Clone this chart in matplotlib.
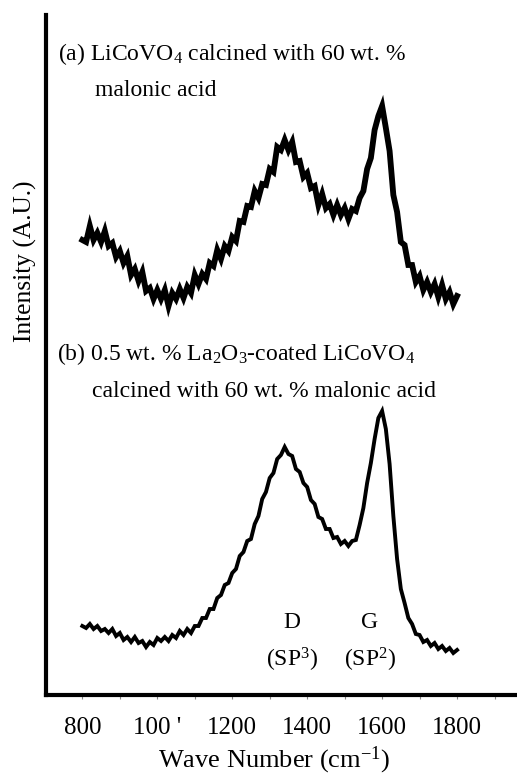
import matplotlib
matplotlib.use("Agg")
import matplotlib.pyplot as plt

plt.rcParams['font.family'] = ['Liberation Serif', 'DejaVu Serif']
plt.rcParams['mathtext.fontset'] = 'custom'
plt.rcParams['mathtext.rm'] = 'Liberation Serif'
plt.rcParams['mathtext.it'] = 'Liberation Serif:italic'
plt.rcParams['mathtext.bf'] = 'Liberation Serif:bold'

# Wave numbers (cm^-1), 10 cm^-1 spacing, 800..1800
wavenumber = list(range(800, 1801, 10))

# (a) LiCoVO4 calcined with 60 wt.% malonic acid (offset trace, A.U.)
intensity_a = [455, 453, 469, 455, 462, 453, 464, 449, 452, 438,
               444, 432, 439, 420, 426, 414, 423, 404, 407, 396,
               405, 396, 405, 389, 402, 396, 406, 397, 408, 402,
               420, 411, 421, 416, 432, 429, 445, 436, 449, 444,
               458, 454, 474, 473, 489, 488, 504, 497, 511, 510,
               526, 523, 548, 545, 555, 545, 553, 533, 534, 518,
               522, 507, 509, 490, 501, 487, 491, 480, 490, 480,
               487, 476, 486, 484, 497, 504, 526, 537, 565, 579,
               589, 567, 544, 500, 483, 453, 450, 430, 430, 413,
               419, 405, 413, 403, 411, 398, 410, 396, 403, 391,
               399]

# (b) 0.5 wt.% La2O3-coated LiCoVO4 calcined with 60 wt.% malonic acid
intensity_b = [69, 67, 71, 66, 69, 64, 66, 62, 66, 59,
               62, 55, 58, 53, 58, 52, 54, 48, 53, 50,
               57, 54, 58, 54, 60, 57, 64, 60, 66, 62,
               69, 69, 77, 77, 86, 86, 97, 100, 110, 112,
               122, 126, 139, 143, 154, 156, 171, 179, 196, 203,
               217, 222, 236, 240, 248, 241, 239, 226, 223, 212,
               208, 195, 191, 178, 176, 166, 166, 157, 158, 151,
               154, 149, 154, 155, 170, 187, 212, 232, 256, 277,
               284, 266, 231, 179, 136, 106, 92, 77, 71, 61,
               60, 53, 55, 49, 52, 46, 49, 44, 47, 42,
               45]

tick_values = [800, 900, 1000, 1100, 1200, 1300, 1400, 1500, 1600, 1700, 1800, 1900]
tick_labels = ['800', '', "100 '", '', '1200', '', '1400', '', '1600', '', '1800', '']

W, H = 517, 775
fig = plt.figure(figsize=(W / 100, H / 100), dpi=100)
ax = fig.add_axes([46 / W, 80 / H, (W - 46) / W, 680 / H])

ax.plot(wavenumber, intensity_a, color='black', lw=4.2, solid_joinstyle='miter')
ax.plot(wavenumber, intensity_b, color='black', lw=2.8, solid_joinstyle='miter')

ax.set_xlim(703, 1960)
ax.set_ylim(0, 680)
ax.set_yticks([])
ax.set_xticks(tick_values)
ax.set_xticklabels(tick_labels, fontsize=18)
ax.tick_params(axis='x', direction='out', length=3, width=0.8, color='#888888', pad=13)

for s in ['top', 'right']:
    ax.spines[s].set_visible(False)
ax.spines['left'].set_linewidth(3)
ax.spines['bottom'].set_linewidth(3)

def px(x, y):
    return x / W, 1 - y / H

fs = 17
fig.text(*px(58, 60), r"(a) LiCoVO$_4$ calcined with 60 wt. %", fontsize=fs, va='baseline', ha='left')
fig.text(*px(95, 96), "malonic acid", fontsize=fs, va='baseline', ha='left')
fig.text(*px(57, 360), r"(b) 0.5 wt. % La$_2$O$_3$-coated LiCoVO$_4$", fontsize=fs, va='baseline', ha='left')
fig.text(*px(92, 397), "calcined with 60 wt. % malonic acid", fontsize=fs, va='baseline', ha='left')

fig.text(*px(292, 628), "D", fontsize=fs, va='baseline', ha='center')
fig.text(*px(292, 667), r"(SP$^3$)", fontsize=fs, va='baseline', ha='center')
fig.text(*px(370, 628), "G", fontsize=fs, va='baseline', ha='center')
fig.text(*px(370, 667), r"(SP$^2$)", fontsize=fs, va='baseline', ha='center')

fig.text(*px(274, 760), r"Wave Number (cm$^{-1}$)", fontsize=19, va='center', ha='center')
fig.text(*px(25, 261), "Intensity (A.U.)", fontsize=18.4, va='center', ha='center', rotation=90)

fig.savefig("out.png", dpi=100)
